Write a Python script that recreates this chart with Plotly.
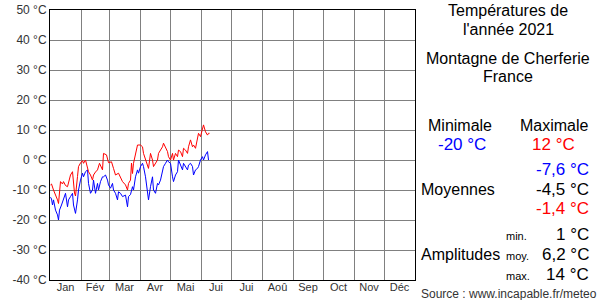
import plotly.graph_objects as go

# Day of year (0 = 1 Jan) and daily maximum temperatures (°C)
max_days = [0,1,3,5,7,8,10,12,13,15,17,20,22,24,25,27,28,30,32,33,35,38,40,42,43,45,47,49,52,53,56,58,61,63,65,68,70,72,75,77,78,80,81,82,83,85,87,90,92,93,95,97,98,100,102,103,105,107,108,110,112,113,115,117,118,120,122,123,125,127,128,130,132,133,135,137,138,140,142,143,145,147,148,150,152,153,155,157,158,159]
max_vals = [-8.3,-8.0,-10,-11.5,-13.3,-14.5,-7.2,-8,-7.2,-8.5,-8.9,-5,-3.9,-11,-12,-5.5,-2.2,-1,-0.2,-1.1,0,-3.9,-5,-6.7,-5,-4,-3.3,-1.1,-3.3,2.2,1.7,-0.9,-0.6,-2.8,-5,-4.4,-6,-7.2,-8.3,-10,-7.8,-6.7,-1,-4.5,-1.1,2.2,5,5,4.4,2.2,0,-2.2,-2.8,2.2,0,-2.2,-1.1,0,2.2,3.3,4.4,5.6,3.9,2.8,1.1,0,2.2,0,2.2,1.1,3.3,2.8,1.1,3.9,3.3,2.2,4.4,6.7,4.4,5,3.9,7.2,8.9,7.8,10,11.7,9.4,8.3,8.9,8.9]

# Day of year and daily minimum temperatures (°C)
min_days = [0,1,2,3,5,7,8,9,11,13,15,17,18,20,22,23,25,27,28,30,32,33,35,37,38,40,42,43,45,47,48,50,52,53,55,57,58,60,62,63,65,67,68,70,72,75,77,78,80,82,83,85,87,88,90,92,93,95,97,98,100,102,103,105,107,108,110,112,113,115,117,118,120,122,123,125,127,128,130,132,133,135,137,138,140,142,143,145,147,148,150,152,153,155,157,158]
min_vals = [-12.4,-13,-15,-13.3,-16.7,-18.3,-20,-16.7,-15,-13.3,-11.1,-15.6,-13.3,-12.2,-11.1,-15,-17.8,-13.3,-10,-6.7,-4.4,-5.6,-3.9,-3.3,-7.8,-11.1,-10,-6.7,-11.1,-7.8,-10,-7.2,-5.6,-5.6,-5,-6.7,-8.3,-9.4,-7.8,-10,-11.1,-13.3,-10.6,-11.1,-12.2,-11.7,-15.6,-12.2,-11.5,-8.9,-10,-5.6,-3.3,-4.4,-2.2,-1.1,-2.2,-5.6,-12.2,-13.3,-8.9,-5.6,-10,-11.1,-7.8,-8.3,-6.7,-3.9,-2.2,-1.1,0,-0.6,-1.1,-5.6,-7.2,-5,-3.9,0,-1.7,-3.3,-1.1,-2.2,-3.3,-1.7,-1.1,-2.2,-5,-3.3,-2.8,-2.2,0,1.1,0,1.7,2.8,0]

month_labels = ["Jan", "Fév", "Mar", "Avr", "Mai", "Jui", "Jui", "Aoû", "Sep", "Oct", "Nov", "Déc"]
month_bounds = [0, 31, 59, 90, 120, 151, 181, 212, 243, 273, 304, 334, 365]
y_ticks = [50, 40, 30, 20, 10, 0, -10, -20, -30, -40]

FONT = "Liberation Sans, Arial, sans-serif"
GRID = "#808080"

fig = go.Figure()
fig.add_trace(go.Scatter(x=[d + 0.5 for d in min_days], y=min_vals, mode="lines",
                         line=dict(color="#0000ff", width=1), hoverinfo="skip"))
fig.add_trace(go.Scatter(x=[d + 0.5 for d in max_days], y=max_vals, mode="lines",
                         line=dict(color="#ff0000", width=1), hoverinfo="skip"))

mids = [(month_bounds[i] + month_bounds[i + 1]) / 2 for i in range(12)]

fig.update_layout(
    width=600, height=300,
    margin=dict(l=50, r=185, t=10, b=20),
    paper_bgcolor="white", plot_bgcolor="white",
    showlegend=False,
    font=dict(family=FONT, color="#333333"),
    xaxis=dict(range=[0, 365], tickmode="array", tickvals=mids, ticktext=month_labels,
               showgrid=False, ticks="", tickfont=dict(size=11, color="#333333"),
               automargin=False, ticklabelstandoff=-3,
               showline=True, linecolor="black", linewidth=1, mirror=True, zeroline=False,
               minor=dict(tickmode="array", tickvals=month_bounds, showgrid=True,
                          gridcolor=GRID, gridwidth=1, ticks="")),
    yaxis=dict(range=[-40, 50], tickmode="array", tickvals=y_ticks,
               ticktext=[f"{v} °C" for v in y_ticks],
               showgrid=True, gridcolor=GRID, gridwidth=1, ticks="",
               tickfont=dict(size=12, color="#333333"), automargin=False,
               showline=True, linecolor="black", linewidth=1, mirror=True, zeroline=False),
)

def ann(text, x, y, size=16, color="black", xanchor="center"):
    fig.add_annotation(text=text, x=x, y=y, xref="paper", yref="paper",
                       xanchor=xanchor, yanchor="middle", showarrow=False,
                       font=dict(family=FONT, size=size, color=color))

# pixel -> paper conversion
L, R, T, B = 50, 415, 10, 280
def px(x):
    return (x - L) / (R - L)
def py(y):
    return (B - y) / (B - T)

ann("Températures de", px(508), py(11))
ann("l'année 2021", px(508), py(29))
ann("Montagne de Cherferie", px(508), py(58))
ann("France", px(508), py(77))
ann("Minimale", px(460), py(125))
ann("Maximale", px(554), py(125))
ann("-20 °C", px(462), py(144), size=17, color="#0000ff")
ann("12 °C", px(553), py(144), size=17, color="#ff0000")
ann("-7,6 °C", px(591), py(169), size=17, color="#0000ff", xanchor="right")
ann("Moyennes", px(419), py(189), xanchor="left")
ann("-4,5 °C", px(591), py(189), size=17, xanchor="right")
ann("-1,4 °C", px(591), py(208), size=17, color="#ff0000", xanchor="right")
ann("min.", px(504), py(236), size=11, xanchor="left")
ann("1 °C", px(591), py(234), size=17, xanchor="right")
ann("Amplitudes", px(419), py(254), xanchor="left")
ann("moy.", px(504), py(256), size=11, xanchor="left")
ann("6,2 °C", px(591), py(254), size=17, xanchor="right")
ann("max.", px(504), py(276), size=11, xanchor="left")
ann("14 °C", px(591), py(274), size=17, xanchor="right")
ann("Source : www.incapable.fr/meteo", px(419), py(294), size=12, color="#333333", xanchor="left")

fig.write_html("out.html")
